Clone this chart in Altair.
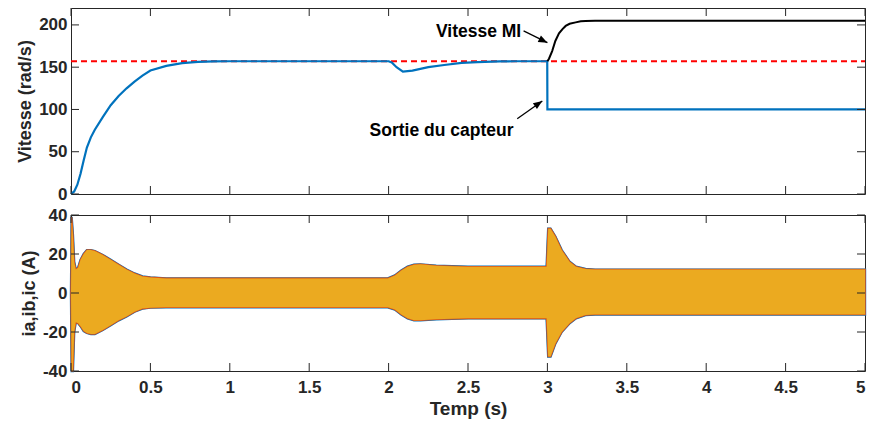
import altair as alt
import pandas as pd

# ---------------- data ----------------
# Top panel: speed (rad/s)
speed_t = [0, 0.02, 0.04, 0.06, 0.08, 0.1, 0.125, 0.15, 0.2, 0.25, 0.3, 0.35, 0.4,
           0.45, 0.5, 0.6, 0.7, 0.8, 0.9, 1.0, 1.5, 2.0, 2.02, 2.05, 2.09, 2.15,
           2.25, 2.35, 2.46, 2.56, 2.7, 2.8, 2.999, 3.0, 3.5, 4.0, 4.5, 5.0]
speed_v = [0, 3, 11, 24, 40, 55, 67, 76, 91, 105, 116, 125, 133,
           140, 146, 151.5, 154.8, 156.3, 156.9, 157, 157, 157, 155.5, 150, 144.7, 146,
           150, 152.6, 155, 156, 156.8, 157, 157, 100, 100, 100, 100, 100]

mi_t = [3.0, 3.01, 3.03, 3.05, 3.073, 3.095, 3.115, 3.14, 3.178, 3.21, 3.24, 3.3, 4.0, 5.0]
mi_v = [157, 160, 169, 181, 190, 195, 198.8, 201.3, 203, 204.2, 204.7, 205, 205, 205]

ref_t = [0, 5]
ref_v = [157, 157]

# Bottom panel: current envelope (A)
cur_t = [0.0, 0.004, 0.012, 0.02, 0.03, 0.045, 0.06, 0.08, 0.1, 0.125, 0.15, 0.2,
         0.25, 0.3, 0.35, 0.4, 0.45, 0.5, 0.6, 1.0, 1.5, 1.995, 2.04, 2.08, 2.12,
         2.16, 2.2, 2.3, 2.5, 2.8, 2.995, 3.005, 3.02, 3.05, 3.09, 3.14, 3.18, 3.24,
         3.3, 4.0, 5.0]
cur_max = [0, 39, 30, 16, 12, 13, 17, 20, 22, 22, 21.5, 19.5,
           17, 14.5, 12, 10, 8.5, 8, 7.5, 7.5, 7.5, 7.5, 9, 11.5, 13.5,
           14.5, 14.7, 14, 13.5, 13.5, 13.5, 33, 33, 29, 22, 16, 13.5, 12.3,
           12, 12, 12]
cur_min = [0, -40, -40, -20, -15, -15.5, -17, -19.5, -20.5, -21, -21, -19,
           -16.5, -14, -12, -9.6, -8, -7.5, -7.3, -7.3, -7.3, -7.3, -8.5, -11, -13,
           -14, -14, -13.5, -13, -13, -13, -32.6, -32.6, -26, -20, -15.5, -13, -11.3,
           -11, -11, -11]

# Annotations
ann1_text = ["Vitesse MI"]
ann1_t = [2.835]
ann1_v = [192]
ann2_text = ["Sortie du capteur"]
ann2_t = [2.333]
ann2_v = [74]
arr_t0 = [2.85, 2.81]
arr_v0 = [193, 89]
arr_t1 = [3.0, 2.968]
arr_v1 = [179, 110]

# Tick values
x_ticks = [0, 0.5, 1, 1.5, 2, 2.5, 3, 3.5, 4, 4.5, 5]
y1_ticks = [0, 50, 100, 150, 200]
y2_ticks = [-40, -20, 0, 20, 40]

# ---------------- styling ----------------
W = 794
H1 = 186
H2 = 156
TICK = 8
FRAME = "#262626"
FONT = "Liberation Sans"
BLUE = "#0072BD"
RED = "#D95319"
YEL = "#EBAA20"

df_speed = pd.DataFrame({"t": speed_t, "v": speed_v})
df_mi = pd.DataFrame({"t": mi_t, "v": mi_v})
df_ref = pd.DataFrame({"t": ref_t, "v": ref_v})
df_cur = pd.DataFrame({"t": cur_t, "v": cur_max, "lo": cur_min})
df_ann1 = pd.DataFrame({"label": ann1_text, "t": ann1_t, "v": ann1_v})
df_ann2 = pd.DataFrame({"label": ann2_text, "t": ann2_t, "v": ann2_v})
df_arr = pd.DataFrame({"t": arr_t0, "v": arr_v0, "t2": arr_t1, "v2": arr_v1})
df_head = pd.DataFrame({"t": arr_t1, "v": arr_v1, "ang": [26.3, 325.3]})
df_xt = pd.DataFrame({"t": x_ticks})
df_y1t = pd.DataFrame({"v": y1_ticks})
df_y2t = pd.DataFrame({"v": y2_ticks})

xscale = alt.Scale(domain=[0, 5], nice=False, zero=False)
y1scale = alt.Scale(domain=[0, 220], nice=False, zero=False)
y2scale = alt.Scale(domain=[-40, 40], nice=False, zero=False)

x1axis = alt.Axis(values=x_ticks, labels=False, title=None)
y1axis = alt.Axis(values=y1_ticks, title="Vitesse (rad/s)", format="d")
x2axis = alt.Axis(values=x_ticks, title="Temp (s)", format="~g", labelPadding=8,
                  titlePadding=4, titleFontSize=19)
y2axis = alt.Axis(values=y2_ticks, title="ia,ib,ic (A)",
                  labelExpr="datum.value < 0 ? '-' + abs(datum.value) : '' + datum.value")


def x1():
    return alt.X("t:Q", scale=xscale, axis=x1axis)


def y1():
    return alt.Y("v:Q", scale=y1scale, axis=y1axis)


def x2():
    return alt.X("t:Q", scale=xscale, axis=x2axis)


def y2():
    return alt.Y("v:Q", scale=y2scale, axis=y2axis)


# ---------- top panel ----------
ref_line = alt.Chart(df_ref).mark_line(color="#FF0000", strokeWidth=2,
                                       strokeDash=[6, 4]).encode(x=x1(), y=y1())
blue_line = alt.Chart(df_speed).mark_line(color=BLUE, strokeWidth=2.2).encode(
    x=x1(), y=y1())
mi_line = alt.Chart(df_mi).mark_line(color="black", strokeWidth=2).encode(
    x=x1(), y=y1())
ann1 = alt.Chart(df_ann1).mark_text(font=FONT, fontWeight="bold", fontSize=17.5,
                                    color="black", baseline="middle",
                                    align="right").encode(
    x=x1(), y=y1(), text="label:N")
ann2 = alt.Chart(df_ann2).mark_text(font=FONT, fontWeight="bold", fontSize=17.5,
                                    color="black", baseline="middle",
                                    align="center").encode(
    x=x1(), y=y1(), text="label:N")
shaft = alt.Chart(df_arr).mark_rule(color="black", strokeWidth=1.3).encode(
    x=x1(), y=y1(), x2="t2:Q", y2="v2:Q")
head = alt.Chart(df_head).mark_point(shape="M0,0 L-2,-0.8 L-2,0.8 Z", filled=True,
                                     color="black", opacity=1, size=81).encode(
    x=x1(), y=y1(), angle=alt.Angle("ang:Q", scale=None))

top_tx = alt.Chart(df_xt).mark_rule(color=FRAME, strokeWidth=1).encode(
    x=x1(), y=alt.value(0), y2=alt.value(TICK))
bot_tx = alt.Chart(df_xt).mark_rule(color=FRAME, strokeWidth=1).encode(
    x=x1(), y=alt.value(H1), y2=alt.value(H1 - TICK))
left_ty = alt.Chart(df_y1t).mark_rule(color=FRAME, strokeWidth=1).encode(
    y=y1(), x=alt.value(0), x2=alt.value(TICK))
right_ty = alt.Chart(df_y1t).mark_rule(color=FRAME, strokeWidth=1).encode(
    y=y1(), x=alt.value(W), x2=alt.value(W - TICK))

top = alt.layer(ref_line, blue_line, mi_line, shaft, head, ann1, ann2,
                top_tx, bot_tx, left_ty, right_ty).properties(width=W, height=H1)

# ---------- bottom panel ----------
band_b = alt.Chart(df_cur).mark_area(color=BLUE, stroke=BLUE, strokeWidth=2.4,
                                     opacity=1).encode(x=x2(), y=y2(), y2="lo:Q")
band_r = alt.Chart(df_cur).mark_area(color=RED, stroke=RED, strokeWidth=1.6,
                                     opacity=1).encode(x=x2(), y=y2(), y2="lo:Q")
band_y = alt.Chart(df_cur).mark_area(color=YEL, opacity=1).encode(
    x=x2(), y=y2(), y2="lo:Q")

b_top_tx = alt.Chart(df_xt).mark_rule(color=FRAME, strokeWidth=1).encode(
    x=x2(), y=alt.value(0), y2=alt.value(TICK))
b_bot_tx = alt.Chart(df_xt).mark_rule(color=FRAME, strokeWidth=1).encode(
    x=x2(), y=alt.value(H2), y2=alt.value(H2 - TICK))
b_left_ty = alt.Chart(df_y2t).mark_rule(color=FRAME, strokeWidth=1).encode(
    y=y2(), x=alt.value(0), x2=alt.value(TICK))
b_right_ty = alt.Chart(df_y2t).mark_rule(color=FRAME, strokeWidth=1).encode(
    y=y2(), x=alt.value(W), x2=alt.value(W - TICK))

bottom = alt.layer(band_b, band_r, band_y, b_top_tx, b_bot_tx, b_left_ty,
                   b_right_ty).properties(width=W, height=H2)

chart = alt.vconcat(top, bottom, spacing=2).properties(
    padding={"left": 16, "top": 7, "right": 0, "bottom": 0},
    background="white",
).configure_view(
    stroke=FRAME, strokeWidth=1
).configure_axis(
    domain=False, ticks=False, grid=False,
    labelFont=FONT, labelFontWeight="bold", labelFontSize=17, labelColor=FRAME,
    labelPadding=4,
    titleFont=FONT, titleFontWeight="bold", titleFontSize=18, titleColor=FRAME,
    titlePadding=4,
)

chart.save("out.html", embed_options={"renderer": "svg", "actions": False})
